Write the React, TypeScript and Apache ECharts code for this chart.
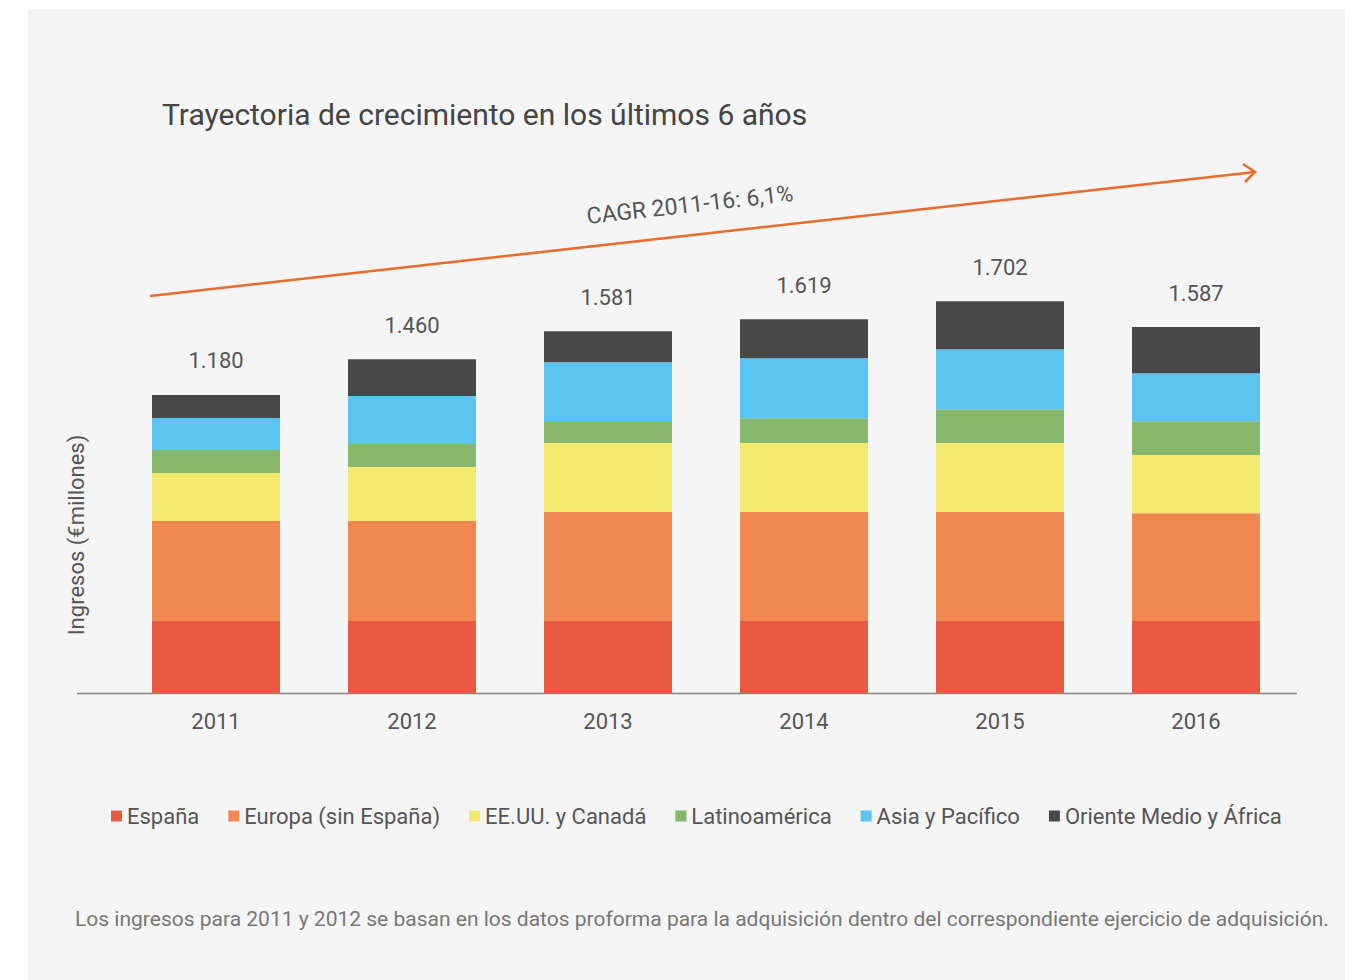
import React, { useEffect, useRef } from "react";
import * as echarts from "echarts";

const years = ["2011", "2012", "2013", "2014", "2015", "2016"];
const totals = ["1.180", "1.460", "1.581", "1.619", "1.702", "1.587"];
const espana = [312, 312, 312, 312, 312, 312];
const europa = [434, 434, 473, 473, 473, 468];
const eeuu = [208, 234, 299, 299, 299, 252];
const latam = [100, 100, 91, 108, 147, 147];
const asia = [139, 208, 260, 260, 260, 208];
const oriente = [100, 160, 134, 169, 208, 200];

const seriesNames = [
  "España",
  "Europa (sin España)",
  "EE.UU. y Canadá",
  "Latinoamérica",
  "Asia y Pacífico",
  "Oriente Medio y África",
];
const seriesData = [espana, europa, eeuu, latam, asia, oriente];
const colors = ["#EA5A40", "#F0894F", "#F2E96E", "#87B66D", "#5CC4F2", "#484848"];

const FONT = "Roboto";

export default function App() {
  const ref = useRef<HTMLDivElement>(null);
  useEffect(() => {
    const chart = echarts.init(ref.current!, undefined, { renderer: "svg" });
    const series: any[] = seriesNames.map((name, i) => ({
      name,
      type: "bar",
      stack: "total",
      barWidth: 128,
      data: seriesData[i],
      itemStyle: { color: colors[i] },
      label:
        i === seriesNames.length - 1
          ? {
              show: true,
              position: "top",
              distance: 23,
              fontFamily: FONT,
              fontSize: 22,
              color: "#555",
              formatter: (p: any) => totals[p.dataIndex],
            }
          : { show: false },
    }));
    chart.setOption({
      animation: false,
      backgroundColor: "#ffffff",
      textStyle: { fontFamily: FONT },
      grid: { left: 118, width: 1176, top: 278, height: 415 },
      xAxis: {
        type: "category",
        data: years,
        axisLine: { show: false },
        axisTick: { show: false },
        axisLabel: { fontSize: 22, color: "#555", margin: 17, fontFamily: FONT },
      },
      yAxis: {
        type: "value",
        min: 0,
        max: 1800,
        show: false,
      },
      legend: {
        left: 106,
        top: 800,
        icon: "rect",
        itemWidth: 11,
        itemHeight: 11,
        itemGap: 29,
        textStyle: { fontSize: 22, color: "#555", fontFamily: FONT },
        data: seriesNames,
      },
      graphic: [
        {
          type: "rect",
          z: -10,
          silent: true,
          shape: { x: 28, y: 9, width: 1317, height: 971 },
          style: { fill: "#F5F5F5" },
        },
        {
          type: "text",
          x: 162,
          y: 114,
          style: {
            text: "Trayectoria de crecimiento en los últimos 6 años",
            fontSize: 30,
            fontFamily: FONT,
            fill: "#444",
            verticalAlign: "middle",
            align: "left",
          },
        },
        {
          type: "line",
          shape: { x1: 150, y1: 296, x2: 1255, y2: 172 },
          style: { stroke: "#EE6A28", lineWidth: 2.5 },
        },
        {
          type: "polyline",
          shape: { points: [[1243, 164], [1255, 172], [1245, 182]] },
          style: { stroke: "#EE6A28", lineWidth: 2.5, fill: null },
        },
        {
          type: "text",
          x: 690,
          y: 205,
          rotation: 0.1117,
          style: {
            text: "CAGR 2011-16: 6,1%",
            fontSize: 23,
            fontFamily: FONT,
            fill: "#555",
            align: "center",
            verticalAlign: "middle",
          },
        },
        {
          type: "text",
          x: 76,
          y: 535,
          rotation: Math.PI / 2,
          style: {
            text: "Ingresos (€millones)",
            fontSize: 22,
            fontFamily: FONT,
            fill: "#555",
            align: "center",
            verticalAlign: "middle",
          },
        },
        {
          type: "line",
          shape: { x1: 77, y1: 693.5, x2: 1297, y2: 693.5 },
          style: { stroke: "#8C8585", lineWidth: 1.5 },
        },
        {
          type: "text",
          x: 75,
          y: 919,
          style: {
            text:
              "Los ingresos para 2011 y 2012 se basan en los datos proforma para la adquisición dentro del correspondiente ejercicio de adquisición.",
            fontSize: 21,
            fontFamily: FONT,
            fill: "#777",
            align: "left",
            verticalAlign: "middle",
          },
        },
      ],
      series,
    });
    return () => chart.dispose();
  }, []);
  return (
    <div
      ref={ref}
      style={{ position: "fixed", left: 0, top: 0, width: 1354, height: 980 }}
    />
  );
}
